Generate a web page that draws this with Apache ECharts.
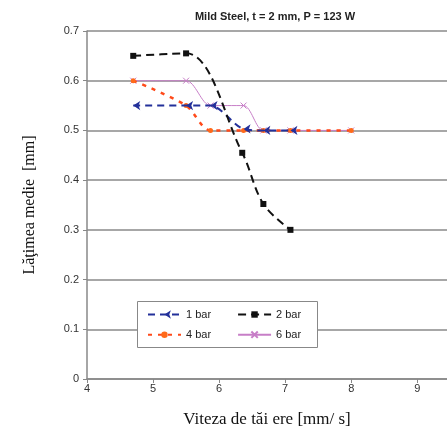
<!DOCTYPE html>
<html>
<head>
<meta charset="utf-8">
<script src="https://cdn.jsdelivr.net/npm/echarts@6/dist/echarts.min.js"></script>
<style>
  html, body { margin: 0; padding: 0; background: #fff; }
  #chart { width: 447px; height: 434px; }
</style>
</head>
<body>
<div id="chart"></div>
<script>
// cutting speed [mm/s] and mean kerf width [mm]
const speed1 = [4.7, 5.5, 5.87, 6.37, 6.67, 7.08]
const width1 = [0.55, 0.55, 0.55, 0.503, 0.5, 0.5]

const speed2 = [4.7, 5.5, 6.35, 6.67, 7.08]
const width2 = [0.65, 0.655, 0.455, 0.352, 0.30]

const speed4 = [4.7, 5.5, 5.87, 6.37, 6.67, 7.08, 8.0]
const width4 = [0.6, 0.55, 0.5, 0.5, 0.5, 0.5, 0.5]

const speed6 = [4.7, 5.5, 5.87, 6.37, 6.67, 7.08, 8.0]
const width6 = [0.6, 0.6, 0.55, 0.55, 0.5, 0.5, 0.5]

const xTicks = [4, 5, 6, 7, 8, 9]

const zip = (xs, ys) => xs.map((x, i) => [x, ys[i]])

const legendText = { fontFamily: 'Liberation Sans', fontSize: 11, color: '#222' }

const chart = echarts.init(document.getElementById('chart'), null, { renderer: 'canvas' })

chart.setOption({
    animation: false,
    title: {
        text: 'Mild Steel, t = 2 mm, P = 123 W',
        left: 270,
        textAlign: 'center',
        top: 6,
        textStyle: { fontFamily: 'Liberation Sans', fontSize: 11, fontWeight: 'bold', color: '#222' }
    },
    grid: { left: 87, right: 0, top: 31, bottom: 55 },
    // legend box, two legend rows drawn on top of it
    graphic: [{
        type: 'rect',
        left: 137,
        top: 301,
        shape: { width: 180, height: 46 },
        style: { fill: '#fff', stroke: '#888', lineWidth: 1 },
        z: 10
    }],
    legend: [{
        left: 147,
        top: 309,
        itemWidth: 33,
        itemHeight: 8,
        itemGap: 26,
        padding: 0,
        z: 11,
        textStyle: legendText,
        data: ['1 bar', '2 bar']
    }, {
        left: 147,
        top: 329,
        itemWidth: 33,
        itemHeight: 8,
        itemGap: 26,
        padding: 0,
        z: 11,
        textStyle: legendText,
        data: ['4 bar', '6 bar']
    }],
    xAxis: {
        type: 'value',
        min: 4,
        max: 9.45,
        name: 'Viteza de tăi ere [mm/ s]',
        nameLocation: 'middle',
        nameGap: 32,
        nameTextStyle: { fontFamily: 'Liberation Serif', fontSize: 17, color: '#111' },
        axisLine: { show: true, onZero: false, lineStyle: { color: '#888', width: 1.5 } },
        axisTick: { show: true, customValues: xTicks, length: 4, lineStyle: { color: '#888' } },
        axisLabel: { customValues: xTicks, fontFamily: 'Liberation Sans', fontSize: 11, color: '#333', margin: 4 },
        splitLine: { show: false }
    },
    yAxis: {
        type: 'value',
        min: 0,
        max: 0.7,
        interval: 0.1,
        name: 'Lăţimea medie  [mm]',
        nameLocation: 'middle',
        nameGap: 49,
        nameTextStyle: { fontFamily: 'Liberation Serif', fontSize: 16, color: '#111' },
        axisLine: { show: true, lineStyle: { color: '#888', width: 1.5 } },
        axisTick: { show: true, length: 4, lineStyle: { color: '#888' } },
        axisLabel: { fontFamily: 'Liberation Sans', fontSize: 11, color: '#333', margin: 8,
            formatter: v => v === 0 ? '0' : v.toFixed(1) },
        splitLine: { show: true, lineStyle: { color: '#8a8a8a', width: 1.5 } }
    },
    series: [{
        name: '1 bar',
        type: 'line',
        smooth: 0.3,
        data: zip(speed1, width1),
        symbol: 'arrow',
        symbolRotate: 90,
        symbolSize: 7,
        z: 3,
        itemStyle: { color: '#23309a' },
        lineStyle: { color: '#23309a', width: 2, type: [7, 5] }
    }, {
        name: '2 bar',
        type: 'line',
        smooth: 0.35,
        data: zip(speed2, width2),
        symbol: 'rect',
        symbolSize: 6,
        z: 4,
        itemStyle: { color: '#111' },
        lineStyle: { color: '#111', width: 2, type: [8, 5] }
    }, {
        name: '4 bar',
        type: 'line',
        smooth: 0.3,
        data: zip(speed4, width4),
        symbol: 'circle',
        symbolSize: 5,
        z: 2,
        itemStyle: { color: '#ff6a1a' },
        lineStyle: { color: '#ff4a1a', width: 2.5, type: [4, 6] }
    }, {
        name: '6 bar',
        type: 'line',
        smooth: 0.3,
        data: zip(speed6, width6),
        symbol: 'path://M0,0L10,10M10,0L0,10',
        symbolSize: 6,
        z: 1,
        itemStyle: { color: 'none', borderColor: '#c77ec7', borderWidth: 1 },
        lineStyle: { color: '#c77ec7', width: 1 }
    }]
})
</script>
</body>
</html>
